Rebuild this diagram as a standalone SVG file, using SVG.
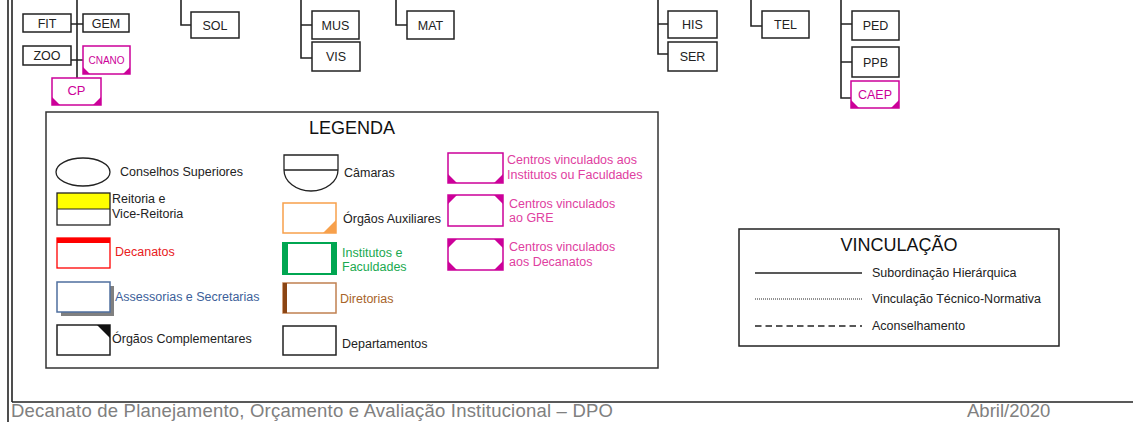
<svg xmlns="http://www.w3.org/2000/svg" width="1133" height="422" viewBox="0 0 1133 422">
<style>
.n{fill:#fff;stroke:#222;stroke-width:1.5}
.t{font-family:"Liberation Sans",Arial,sans-serif;font-size:12.5px;fill:#222}
.c{text-anchor:middle}
.m{fill:#fff;stroke:#cc0099;stroke-width:1.5}
.mf{fill:#cc0099}
.mt{fill:#cc0099}
.pt{font-family:"Liberation Sans",Arial,sans-serif;font-size:12.5px;fill:#e0409f}
.ln{stroke:#222;stroke-width:1.6;fill:none}
.ft{font-family:"Liberation Sans",Arial,sans-serif;font-size:18.5px;fill:#808080}
</style>
<rect width="1133" height="422" fill="#fff"/>
<g id="frame">
<line x1="8" y1="0" x2="8" y2="422" stroke="#222" stroke-width="1.6"/>
<line x1="12" y1="0" x2="12" y2="402" stroke="#222" stroke-width="1.6"/>
<line x1="12" y1="402" x2="1133" y2="402" stroke="#222" stroke-width="1.6"/>
</g>
<g id="connectors">
<path class="ln" d="M77,0 V78 M71,24 H83 M71,60 H83"/>
<path class="ln" d="M181,0 V25 H191"/>
<path class="ln" d="M301,0 V58 H312 M301,25 H312"/>
<path class="ln" d="M396,0 V25 H407"/>
<path class="ln" d="M658,0 V54 H668 M658,24 H668"/>
<path class="ln" d="M751,0 V26 H762"/>
<path class="ln" d="M841,0 V98 H851 M841,24 H852 M841,62 H852"/>
</g>
<g id="FIT"><rect class="n" x="23" y="14" width="48" height="18"/><text class="t c" x="47" y="28">FIT</text></g>
<g id="GEM"><rect class="n" x="83" y="14" width="46" height="18"/><text class="t c" x="106" y="28">GEM</text></g>
<g id="ZOO"><rect class="n" x="23" y="46" width="48" height="19"/><text class="t c" x="47" y="60">ZOO</text></g>
<g id="CNANO"><rect class="m" x="83" y="46" width="47" height="28"/><path class="mf" d="M83,67 V74 H90 Z M130,67 V74 H123 Z"/><text class="c" x="106.5" y="64" style="font-family:'Liberation Sans',Arial,sans-serif;font-size:10px;fill:#cc0099">CNANO</text></g>
<g id="CP"><rect class="m" x="52" y="78" width="49" height="27"/><path class="mf" d="M52,97 V105 H60 Z M101,97 V105 H93 Z"/><text class="c" x="76.5" y="95" style="font-family:'Liberation Sans',Arial,sans-serif;font-size:13px;fill:#cc0099">CP</text></g>
<g id="SOL"><rect class="n" x="191" y="12" width="48" height="26"/><text class="t c" x="215" y="30">SOL</text></g>
<g id="MUS"><rect class="n" x="312" y="11" width="47" height="28"/><text class="t c" x="335.5" y="30">MUS</text></g>
<g id="VIS"><rect class="n" x="312" y="42" width="48" height="29"/><text class="t c" x="336" y="61">VIS</text></g>
<g id="MAT"><rect class="n" x="407" y="11" width="47" height="28"/><text class="t c" x="430.5" y="30">MAT</text></g>
<g id="HIS"><rect class="n" x="668" y="11" width="49" height="27"/><text class="t c" x="692.5" y="29">HIS</text></g>
<g id="SER"><rect class="n" x="668" y="42" width="49" height="29"/><text class="t c" x="692.5" y="61">SER</text></g>
<g id="TEL"><rect class="n" x="762" y="11" width="47" height="27"/><text class="t c" x="785.5" y="29">TEL</text></g>
<g id="PED"><rect class="n" x="852" y="11" width="47" height="29"/><text class="t c" x="875.5" y="30">PED</text></g>
<g id="PPB"><rect class="n" x="852" y="47" width="47" height="30"/><text class="t c" x="875.5" y="67">PPB</text></g>
<g id="CAEP"><rect class="m" x="851" y="81" width="48" height="27"/><path class="mf" d="M851,100 V108 H859 Z M899,100 V108 H891 Z"/><text class="c" x="875" y="99" style="font-family:'Liberation Sans',Arial,sans-serif;font-size:12.5px;fill:#cc0099">CAEP</text></g>

<g id="legend">
<rect x="46" y="112" width="612" height="256" fill="#fff" stroke="#333" stroke-width="1.5"/>
<text class="c" x="352" y="134" style="font-family:'Liberation Sans',Arial,sans-serif;font-size:18px;fill:#111">LEGENDA</text>
<ellipse cx="83" cy="172" rx="27" ry="14" fill="#fff" stroke="#222" stroke-width="1.3"/>
<text class="t" x="120" y="176">Conselhos Superiores</text>
<rect x="57" y="193" width="53" height="16" fill="#ffff00"/>
<rect x="57" y="193" width="53" height="32" fill="none" stroke="#222" stroke-width="1.3"/>
<line x1="57" y1="209" x2="110" y2="209" stroke="#222" stroke-width="1"/>
<text class="t" x="112" y="203">Reitoria e</text>
<text class="t" x="112" y="218">Vice-Reitoria</text>
<rect x="57" y="238" width="53" height="30" fill="#fff" stroke="#ff0000" stroke-width="1.3"/>
<rect x="57" y="238" width="53" height="5" fill="#ff0000"/>
<text x="115" y="256" style="font-family:'Liberation Sans',Arial,sans-serif;font-size:12.5px;fill:#e8201c">Decanatos</text>
<rect x="61" y="286" width="53" height="30" fill="#808080"/>
<rect x="57" y="282" width="53" height="30" fill="#fff" stroke="#4f6f9f" stroke-width="1.5"/>
<text x="115" y="301" style="font-family:'Liberation Sans',Arial,sans-serif;font-size:12.5px;fill:#3d5f9a">Assessorias e Secretarias</text>
<rect x="57" y="325" width="53" height="30" fill="#fff" stroke="#222" stroke-width="1.5"/>
<path d="M97,325 H110 V338 Z" fill="#111"/>
<text class="t" x="112" y="343">Órgãos Complementares</text>

<path d="M284,155 H338 V170 A27,21 0 0 1 284,170 Z M284,170 H338" fill="#fff" stroke="#222" stroke-width="1.3"/>
<text class="t" x="344" y="177">Câmaras</text>
<rect x="283" y="203" width="53" height="30" fill="#fff" stroke="#f7a04b" stroke-width="1.5"/>
<path d="M336,220 V233 H323 Z" fill="#f7a04b"/>
<text class="t" x="343" y="223">Órgãos Auxiliares</text>
<rect x="283" y="243" width="53" height="31" fill="#fff" stroke="#00a651" stroke-width="2"/>
<rect x="283" y="243" width="5" height="31" fill="#00a651"/>
<rect x="331" y="243" width="5" height="31" fill="#00a651"/>
<text x="342" y="257" style="font-family:'Liberation Sans',Arial,sans-serif;font-size:12.5px;fill:#1aa950">Institutos e</text>
<text x="342" y="271" style="font-family:'Liberation Sans',Arial,sans-serif;font-size:12.5px;fill:#1aa950">Faculdades</text>
<rect x="283" y="283" width="53" height="30" fill="#fff" stroke="#c08050" stroke-width="1.5"/>
<rect x="283" y="283" width="4" height="30" fill="#8b4513"/>
<text x="340" y="303" style="font-family:'Liberation Sans',Arial,sans-serif;font-size:12.5px;fill:#a8642a">Diretorias</text>
<rect x="283" y="326" width="53" height="29" fill="#fff" stroke="#222" stroke-width="1.5"/>
<text class="t" x="342" y="348">Departamentos</text>

<rect class="m" x="448" y="153" width="55" height="30"/>
<path class="mf" d="M448,174 V183 H457 Z M503,174 V183 H494 Z"/>
<text class="pt" x="507" y="164">Centros vinculados aos</text>
<text class="pt" x="507" y="179">Institutos ou Faculdades</text>
<rect class="m" x="448" y="195" width="55" height="31"/>
<path class="mf" d="M448,195 H457 L448,204 Z M503,195 H494 L503,204 Z"/>
<text class="pt" x="509" y="208">Centros vinculados</text>
<text class="pt" x="509" y="222">ao GRE</text>
<rect class="m" x="448" y="239" width="55" height="31"/>
<path class="mf" d="M448,239 H457 L448,248 Z M503,239 H494 L503,248 Z M448,261 V270 H457 Z M503,261 V270 H494 Z"/>
<text class="pt" x="509" y="251">Centros vinculados</text>
<text class="pt" x="509" y="266">aos Decanatos</text>
</g>

<g id="vinculacao">
<rect x="739" y="229" width="320" height="117" fill="#fff" stroke="#222" stroke-width="1.5"/>
<text class="c" x="899" y="251" style="font-family:'Liberation Sans',Arial,sans-serif;font-size:18px;fill:#111">VINCULAÇÃO</text>
<line x1="755" y1="273" x2="862" y2="273" stroke="#222" stroke-width="1.3"/>
<text class="t" x="872" y="277">Subordinação Hierárquica</text>
<line x1="755" y1="299" x2="862" y2="299" stroke="#222" stroke-width="1" stroke-dasharray="1,1"/>
<text class="t" x="872" y="303">Vinculação Técnico-Normativa</text>
<line x1="755" y1="326" x2="862" y2="326" stroke="#222" stroke-width="1.3" stroke-dasharray="6.5,4"/>
<text class="t" x="872" y="330">Aconselhamento</text>
</g>

<g id="footer">
<text class="ft" x="11" y="417" textLength="602">Decanato de Planejamento, Orçamento e Avaliação Institucional – DPO</text>
<text class="ft" x="967" y="417">Abril/2020</text>
</g>
</svg>
